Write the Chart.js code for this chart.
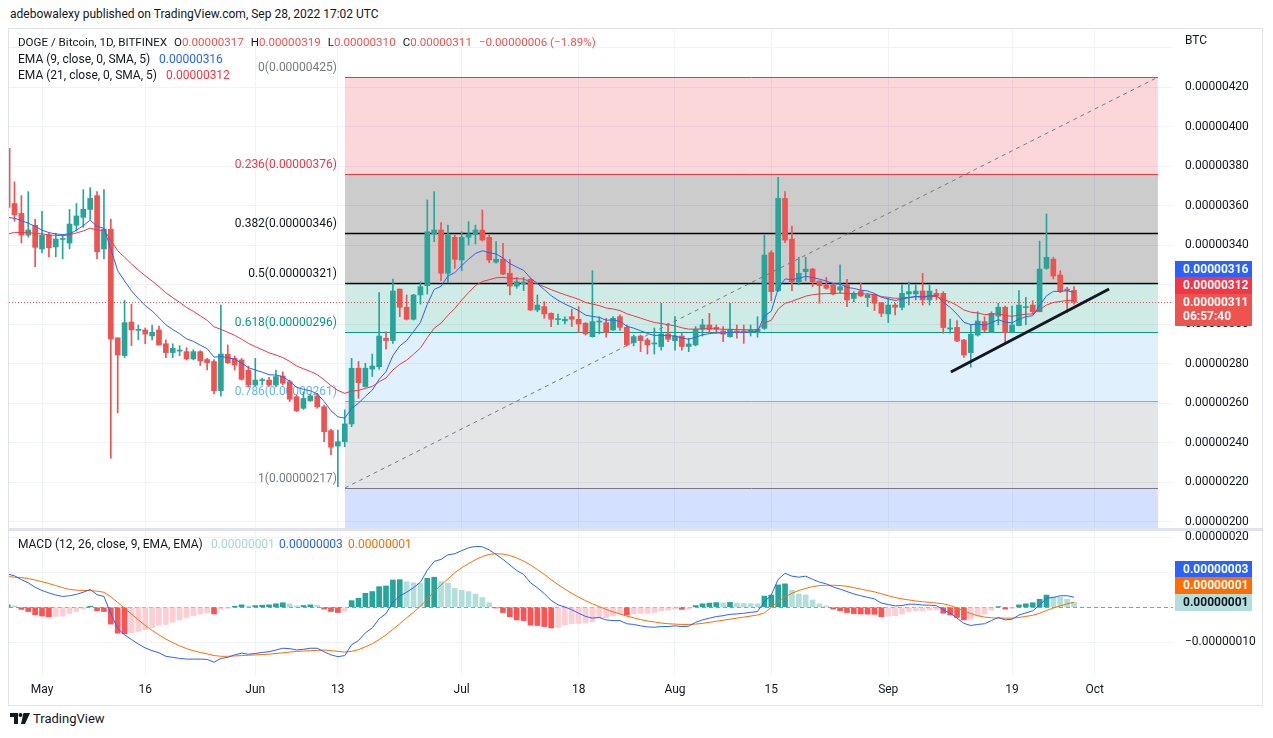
<!DOCTYPE html>
<html>
<head>
<meta charset="utf-8">
<title>DOGE / Bitcoin 1D</title>
<script src="https://cdn.jsdelivr.net/npm/chart.js@4.4.1/dist/chart.umd.min.js"></script>
<style>
  html, body { margin: 0; padding: 0; background: #fff; }
  body { position: relative; width: 1273px; height: 738px; overflow: hidden;
         font-family: Roboto, "Liberation Sans", sans-serif; color: #131722; }
  .abs { position: absolute; white-space: pre; line-height: 16px; font-size: 12px; }
  #frame { position: absolute; left: 8px; top: 28px; width: 1255px; height: 678px;
           border: 1px solid #e0e3eb; box-sizing: border-box; }
  #sep { position: absolute; left: 9px; top: 528px; width: 1253px; height: 3px; background: #e0e3eb; }
  canvas { position: absolute; }
  .dn { color: #ef5350; }
  #ohlc span.k { margin-left: 7px; }
</style>
</head>
<body>
<div id="frame"></div>
<canvas id="price" width="1253" height="499" style="left:9px;top:29px"></canvas>
<div id="sep"></div>
<canvas id="macd" width="1253" height="174" style="left:9px;top:531px"></canvas>

<div class="abs" style="left:10px;top:6px">adebowalexy published on TradingView.com, Sep 28, 2022 17:02 UTC</div>
<div class="abs" id="ohlc" style="left:18px;top:34px;font-size:11.6px">DOGE / Bitcoin, 1D, BITFINEX<span class="k">O</span><span class="dn" id="vO"></span><span class="k">H</span><span class="dn" id="vH"></span><span class="k">L</span><span class="dn" id="vL"></span><span class="k">C</span><span class="dn" id="vC"></span><span class="k dn" id="vChg"></span></div>
<div class="abs" style="left:18px;top:51px">EMA (9, close, 0, SMA, 5)</div>
<div class="abs" id="vE9" style="left:159px;top:51px;color:#2962ff"></div>
<div class="abs" style="left:18px;top:67px">EMA (21, close, 0, SMA, 5)</div>
<div class="abs" id="vE21" style="left:166px;top:67px;color:#f23645"></div>
<div class="abs" style="left:1185px;top:32px">BTC</div>
<div class="abs" style="left:18px;top:536px">MACD (12, 26, close, 9, EMA, EMA)</div>
<div class="abs" id="vHist" style="left:211px;top:536px;color:#a5d6d0"></div>
<div class="abs" id="vMacd" style="left:279px;top:536px;color:#2962ff"></div>
<div class="abs" id="vSig" style="left:348px;top:536px;color:#ff6d00"></div>

<svg style="position:absolute;left:10px;top:713px" width="20" height="12" viewBox="0 0 20 12">
  <path d="M0 0h8v11H4V4H0z" fill="#131722"/>
  <circle cx="10.5" cy="2" r="2" fill="#131722"/>
  <path d="M13.5 0H20l-5 11h-4z" fill="#131722"/>
</svg>
<div class="abs" style="left:33px;top:711px;font-size:13px">TradingView</div>

<script>
// values in satoshi (1e-8 BTC); first candle is Apr 26 2022 = day -5, May 1 = day 0
const firstDay = -5;

const open = [
  389, 361, 356, 345, 350, 338, 345, 339, 342.8, 341,
  350, 354, 358, 365, 338, 348, 293, 284, 301, 296.8,
  297, 294, 297, 290, 285.5, 286.3, 286, 282.3, 286, 282,
  281, 266.2, 284.7, 282.6, 281.8, 276.7, 269.1, 271.3, 271.6, 269.1,
  273.7, 270.8, 263.2, 257.3, 261.2, 263.6, 258.1, 246, 238.2, 240.4,
  249.4, 277.6, 268.3, 277.2, 278.4, 292.8, 291.6, 317.7, 308.5, 302.4,
  314.7, 319.4, 345.6, 347.6, 325.7, 343.9, 332.4, 343.9, 345.2, 347.6,
  343.9, 331.3, 332.8, 325.7, 319.2, 320.4, 322.6, 307.1, 308.8, 305.4,
  302.2, 301.6, 303.7, 302.4, 300.4, 293.6, 301, 300.7, 297, 303.7,
  298.3, 290.6, 293.9, 291.9, 289.9, 288.6, 295, 291.6, 293.9, 288.6,
  289.4, 297.3, 299.5, 298.3, 296.5, 293.6, 296.5, 296.5, 295.8, 295.8,
  297.8, 336.1, 316.8, 363.6, 343, 321.4, 326.5, 327.8, 321.8, 319.7,
  319.7, 317.2, 319.7, 313, 316.7, 313.4, 314.7, 310.8, 305.1, 309.6,
  308.5, 315.2, 315.2, 316.7, 312.2, 315.5, 315.5, 297.5, 298.3, 291.9,
  285.5, 294.4, 301.2, 295.8, 304, 308.5, 295.8, 299.2, 308.3, 309.6,
  306.2, 328.2, 332.8, 324.8, 317.7, 317
];
const high = [
  391, 372, 365, 367, 353, 357, 346, 346, 345, 358,
  361, 368, 369, 367, 368, 353, 293, 312, 310, 299.5,
  298, 299.5, 299, 292, 290, 289, 288, 287, 286.5, 282.6,
  282, 309.6, 289.4, 283.8, 282.6, 278.7, 282.6, 272.6, 273, 276.7,
  275.8, 271.6, 264, 265.7, 264.6, 264.9, 259, 246.7, 246.3, 256.5,
  282.6, 281, 280.1, 284.8, 315.9, 296.1, 322.8, 317.7, 314.7, 315,
  321.4, 362.8, 367, 351.3, 350.1, 345, 346.7, 351.8, 350.1, 357.7,
  345, 341.7, 340.9, 332.8, 323.6, 323.6, 323.1, 314.7, 311.3, 305.6,
  305, 303.6, 307.5, 308.8, 300.7, 327, 303.6, 302.9, 303.7, 304.6,
  299.5, 294.4, 294.4, 292.8, 298, 310.5, 300.4, 303.7, 295.3, 292.8,
  298.7, 302.4, 305.4, 299.5, 298.7, 310.5, 299.5, 299.5, 299.5, 303.7,
  345, 337.1, 374.3, 367, 349.6, 333.8, 333.8, 328.2, 321.8, 323.6,
  320.6, 329.9, 322.6, 316.4, 320.6, 315.5, 315.2, 310.8, 313, 310.5,
  319.7, 321.4, 319.7, 325.7, 319.7, 317.6, 316.4, 302.5, 301.7, 292.3,
  299.5, 306.2, 303.7, 306.2, 310.5, 309.1, 309.1, 316.9, 313.5, 311.8,
  342, 355.7, 333.8, 327, 318.6, 319
];
const low = [
  352, 352, 341, 344, 329, 336, 334, 334, 333, 338,
  347, 349, 353, 333, 333, 232, 255, 283, 289, 292,
  290, 292, 289.4, 283, 283, 284, 281.8, 281.8, 279, 276.7,
  264.6, 263.5, 280, 276.7, 271.6, 268, 268.6, 269.1, 268.4, 268.3,
  269.1, 260.7, 255.6, 256.8, 260.7, 257.3, 240.4, 233.7, 217.6, 237.9,
  248, 262.4, 268, 273.4, 277.1, 287.2, 290.2, 303.7, 302, 302,
  310.1, 315.2, 341.7, 322, 320.9, 328.2, 327, 340, 340.5, 342,
  331, 330.8, 325, 314.7, 318.1, 316.9, 306.8, 306.2, 302.9, 298.7,
  299.7, 300, 298.7, 295.6, 294.4, 293.3, 295, 293.3, 296.7, 296.7,
  288.9, 288.9, 286, 284.8, 284.8, 286.8, 291.1, 286.8, 286.8, 286,
  288.9, 293.9, 295.3, 295.3, 291.1, 293.3, 292.8, 290.2, 293.9, 293.3,
  297.3, 311.8, 316.5, 341.2, 316.9, 319.8, 322, 318.9, 310.5, 317.6,
  314.7, 315.5, 308.8, 311.3, 313.9, 308.8, 306.8, 303.7, 300.7, 304.6,
  307.1, 309.6, 312.2, 309.6, 309.6, 312.2, 295.3, 295.3, 291.1, 283.1,
  278.1, 293.9, 296.1, 295.8, 299.5, 290.6, 295.8, 299, 299.5, 305,
  306.2, 327.7, 322.8, 315.9, 305.8, 310
];
const close = [
  359, 355.3, 345, 347.6, 338.8, 345, 338.6, 343, 343.3, 350.6,
  354.7, 358.1, 363.6, 336.6, 348, 292.4, 284.3, 300.7, 297, 297.2,
  294.9, 295.8, 289.4, 285.5, 287.7, 286.7, 282.3, 286, 281.4, 280.4,
  266.2, 284.8, 280.4, 279.2, 272, 269.1, 271.6, 271.8, 269.1, 273.4,
  270, 261.9, 256.1, 262.3, 263.6, 258.1, 245.5, 237.6, 240.4, 249.4,
  277.6, 270.3, 277.6, 278.7, 293.9, 291.6, 316.7, 308.5, 302.4, 314.7,
  318.9, 346.7, 347.6, 325.7, 345, 332.8, 343.9, 345.6, 347.6, 342.5,
  332.4, 332.8, 325.3, 319.2, 321.4, 321.2, 307.1, 309.6, 305.1, 302.4,
  302.6, 302.4, 302.4, 300, 295, 301.2, 301.5, 295.8, 302.9, 298.3,
  289.4, 293.6, 291.6, 289.4, 290.4, 295, 292.3, 293.9, 288.6, 289.9,
  297.3, 299.5, 297.3, 297.3, 294.9, 297.3, 295.7, 295.8, 297, 297.3,
  334.9, 316.4, 363.6, 342.5, 321.4, 325.7, 327.8, 321.4, 319.4, 318.1,
  315.2, 318.9, 312.2, 315.5, 314.2, 314.7, 310.5, 305.4, 309.6, 308.5,
  315.5, 316.4, 316.7, 312.2, 316.7, 314.2, 298.2, 297.8, 291.4, 284.3,
  294.8, 301.5, 297, 305.4, 308.5, 295.6, 299.5, 309.6, 308.8, 306.2,
  327.8, 333.8, 324.3, 316.4, 317, 311
];
const ema9 = [
  354, 353.5, 352.5, 351, 349.5, 347.5, 346.3, 345.6, 345.3, 345.6,
  347.5, 349.8, 352.6, 349.4, 348.5, 338, 327, 321.8, 316.8, 312.9,
  309.3, 306.6, 303.2, 299.6, 297.2, 295.1, 292.5, 291.2, 289.3, 287.5,
  283.2, 283.6, 282.9, 282.2, 280.2, 277.9, 276.7, 275.6, 274.3, 274.2,
  273.3, 271, 268, 266.9, 266.2, 264.6, 260.8, 256.1, 253, 252.3,
  257.3, 259.9, 263.4, 266.5, 272, 275.9, 284, 288.9, 291.6, 296.2,
  300.8, 310, 317.5, 319.1, 324.3, 326, 329.6, 332.8, 335.7, 337.1,
  336.1, 335.5, 333.4, 330.6, 328.8, 327.2, 323.2, 320.5, 317.4, 314.4,
  312, 310.1, 308.5, 306.8, 304.5, 303.8, 303.4, 301.9, 302.1, 301.3,
  298.9, 297.9, 296.6, 295.2, 294.2, 294.4, 294, 294, 292.9, 292.3,
  293.3, 294.5, 295.1, 295.5, 295.4, 295.8, 295.8, 295.8, 296, 296.3,
  304, 306.5, 317.9, 322.8, 322.5, 323.2, 324.1, 323.6, 322.7, 321.8,
  320.5, 320.2, 318.6, 318, 317.2, 316.7, 315.5, 313.5, 312.7, 311.9,
  312.6, 313.3, 314, 313.7, 314.3, 314.3, 311.1, 308.4, 305, 300.9,
  299.7, 300, 299.4, 300.6, 302.2, 300.9, 300.6, 302.4, 303.7, 304.2,
  309.3, 314.3, 316.5, 316.6, 316.8, 316
];
const ema21 = [
  345.5, 346.4, 346.3, 346.4, 345.7, 345.7, 345.1, 344.9, 344.7, 345.2,
  346.1, 347.1, 348.6, 347.5, 347.5, 342.5, 337.1, 333.8, 330.4, 327.3,
  324.4, 321.8, 318.9, 315.8, 313.3, 311, 308.4, 306.4, 304.1, 301.9,
  298.6, 297.3, 295.8, 294.3, 292.3, 290.2, 288.5, 287, 285.4, 284.3,
  283, 281.1, 278.8, 277.3, 276, 274.4, 271.7, 268.8, 266.4, 264.9,
  266, 266.4, 267.4, 268.4, 270.7, 272.7, 276.7, 279.6, 281.7, 284.7,
  287.8, 293.1, 297.9, 300.4, 304.4, 307.9, 312.1, 315.9, 319.5, 321.5,
  322.4, 323.4, 323.6, 323.2, 323, 322.8, 321.3, 320.3, 318.9, 317.4,
  316.1, 314.8, 313.7, 312.5, 310.9, 310.1, 309.3, 308.1, 307.6, 306.8,
  305.2, 304.1, 303, 301.8, 300.8, 300.3, 299.6, 299.1, 298.1, 297.4,
  297.4, 297.6, 297.6, 297.6, 297.3, 297.3, 297.2, 297.1, 297.1, 297.1,
  300.5, 301.9, 307.5, 310.5, 311.5, 312.8, 314.1, 314.8, 315.2, 315.4,
  315.4, 315.7, 315.4, 315.4, 315.3, 315.2, 314.8, 313.9, 313.5, 313,
  313.2, 313.5, 313.8, 313.6, 313.9, 313.9, 312.5, 311.2, 309.4, 307.1,
  306, 305.6, 304.8, 304.9, 305.2, 304.3, 303.9, 304.5, 305, 305.1,
  307.2, 309.6, 310.9, 311.4, 311.9, 312
];
const macd = [
  9.5, 9.0, 7.9, 7.0, 5.7, 4.8, 4.1, 3.5, 3.1, 3.3,
  3.7, 4.3, 5.1, 3.6, 3.1, -1.8, -6.0, -7.9, -9.2, -10.5,
  -11.6, -12.4, -13.0, -14.0, -14.3, -14.6, -14.8, -14.8, -14.8, -14.9,
  -15.7, -14.6, -14.3, -13.6, -13.1, -13.4, -13.2, -12.9, -12.7, -12.2,
  -11.7, -11.8, -12.2, -12.0, -11.7, -11.7, -12.7, -13.6, -14.1, -13.8,
  -10.7, -9.5, -7.3, -5.9, -3.3, -1.8, 1.5, 3.2, 4.3, 5.6,
  7.2, 10.6, 13.1, 13.7, 15.0, 15.3, 16.2, 17.0, 17.4, 17.3,
  16.4, 15.1, 13.7, 12.1, 10.5, 9.4, 7.0, 5.6, 3.9, 2.0,
  0.7, 0.1, -0.7, -1.7, -2.6, -3.1, -2.9, -3.6, -3.8, -3.8,
  -4.7, -4.9, -5.3, -5.6, -5.7, -5.5, -5.5, -5.3, -5.5, -5.4,
  -4.3, -3.6, -3.1, -2.65, -2.4, -2.0, -1.9, -1.7, -1.45, -1.2,
  1.6, 3.5, 8.0, 9.7, 8.9, 8.6, 8.9, 8.0, 7.2, 6.7,
  5.8, 5.2, 4.5, 3.8, 3.3, 2.85, 2.4, 1.2, 0.8, 0.4,
  0.5, 0.9, 0.85, 0.65, 0.6, 0.45, -0.7, -1.7, -3.1, -4.6,
  -5.2, -4.9, -4.7, -3.8, -2.9, -3.6, -3.4, -2.2, -1.6, -1.0,
  0.6, 2.6, 2.8, 3.3, 3.3, 2.9
];
const signal = [
  8.8, 8.6, 8.5, 8.2, 7.8, 7.3, 6.8, 6.2, 5.6, 5.1,
  4.9, 4.8, 4.8, 4.6, 4.3, 3.0, 1.4, -0.3, -1.9, -3.6,
  -5.2, -6.6, -7.9, -9.1, -10.1, -11.0, -11.8, -12.4, -12.9, -13.3,
  -13.8, -14.0, -14.0, -13.9, -13.8, -13.7, -13.6, -13.5, -13.4, -13.2,
  -13.0, -12.8, -12.6, -12.5, -12.4, -12.3, -12.2, -12.4, -12.6, -12.8,
  -12.6, -12.1, -11.3, -10.4, -9.2, -7.9, -6.3, -4.7, -3.0, -1.4,
  0.3, 2.3, 4.5, 6.4, 8.1, 9.9, 11.3, 12.5, 13.6, 14.5,
  15.1, 15.3, 15.2, 14.8, 14.1, 13.2, 12.1, 10.8, 9.4, 7.9,
  6.5, 5.2, 4.0, 2.9, 1.9, 1.0, 0.2, -0.6, -1.3, -1.9,
  -2.5, -3.0, -3.5, -3.9, -4.2, -4.5, -4.7, -4.8, -4.9, -4.9,
  -4.8, -4.6, -4.3, -4.0, -3.7, -3.4, -3.1, -2.8, -2.5, -2.2,
  -1.6, 0.0, 1.6, 3.0, 4.0, 4.8, 5.4, 5.9, 6.2, 6.3,
  6.3, 6.2, 6.0, 5.6, 5.2, 4.8, 4.4, 3.9, 3.3, 2.8,
  2.4, 2.1, 1.8, 1.6, 1.4, 1.2, 1.0, 0.5, -0.2, -1.0,
  -1.8, -2.4, -2.8, -3.0, -3.1, -3.1, -3.1, -2.9, -2.6, -2.3,
  -1.7, -0.9, -0.2, 0.4, 1.0, 1.45
];
const hist = [
  0.7, 0.4, -0.6, -1.2, -2.1, -2.5, -2.7, -2.6, -2.5, -1.8,
  -1.2, -0.5, 0.3, -1.0, -1.2, -4.8, -7.4, -7.6, -7.3, -6.9,
  -6.4, -5.8, -5.1, -4.9, -4.2, -3.6, -3.0, -2.4, -1.9, -1.6,
  -1.9, -0.6, -0.3, 0.3, 0.7, 0.4, 0.5, 0.6, 0.7, 1.0,
  1.3, 1.0, 0.4, 0.5, 0.7, 0.6, -0.5, -1.2, -1.5, -1.0,
  1.9, 2.6, 4.0, 4.5, 5.9, 6.1, 7.8, 7.9, 7.3, 7.0,
  6.9, 8.3, 8.6, 7.3, 6.9, 5.4, 4.9, 4.5, 3.8, 2.8,
  1.3, -0.2, -1.5, -2.7, -3.6, -3.8, -5.1, -5.2, -5.5, -5.9,
  -5.8, -5.1, -4.7, -4.6, -4.5, -4.1, -3.1, -3.0, -2.5, -1.9,
  -2.2, -1.9, -1.8, -1.7, -1.5, -1.0, -0.8, -0.5, -0.6, -0.5,
  0.5, 1.0, 1.2, 1.35, 1.3, 1.4, 1.2, 1.1, 1.05, 1.0,
  3.2, 3.5, 6.4, 6.7, 4.9, 3.8, 3.5, 2.1, 1.0, 0.4,
  -0.5, -1.0, -1.5, -1.8, -1.9, -1.95, -2.0, -2.7, -2.5, -2.4,
  -1.9, -1.2, -1.0, -0.95, -0.8, -0.75, -1.7, -2.2, -2.9, -3.6,
  -3.4, -2.5, -1.9, -0.8, 0.2, -0.5, -0.3, 0.7, 1.0, 1.3,
  2.3, 3.5, 3.0, 2.9, 2.3, 1.45
];

const dayTicks = [0, 15, 31, 43, 61, 78, 92, 106, 123, 141, 153];
const dayLabels = ['May', '16', 'Jun', '13', 'Jul', '18', 'Aug', '15', 'Sep', '19', 'Oct'];
const priceTicks = [200, 220, 240, 260, 280, 300, 320, 340, 360, 380, 400, 420, 440];
const macdTicks = [-10, 0, 10, 20];

// fib retracement drawing (day range and level prices)
const fibRatios = ['0', '0.236', '0.382', '0.5', '0.618', '0.786', '1'];
const fibPrices = [425, 376, 346, 321, 296, 261, 217];
const fibExtPrice = 88.4;      // 1.618 level, below the visible range
const fibFrom = 44.04, fibTo = 162.2;
const trendFrom = [132.1, 275.7], trendTo = [155.1, 317.7];
const countdown = '06:57:40';

// styles
const fibFill = ['rgba(242,54,69,0.2)', 'rgba(0,0,0,0.2)', 'rgba(0,0,0,0.2)', 'rgba(8,153,129,0.2)',
                 'rgba(100,181,246,0.2)', 'rgba(120,123,134,0.2)', 'rgba(41,98,255,0.2)'];
const fibLine = ['#f23645', '#f23645', '#000000', '#000000', '#089981', '#64b5f6', '#787b86'];
const fibText = ['#787b86', '#f23645', '#131722', '#131722', '#089981', '#64b5f6', '#787b86'];
const up = '#26a69a', down = '#ef5350';
const FONT = 'Roboto, "Liberation Sans", sans-serif';

const fmt = v => (v < 0 ? '\u2212' : '') + (Math.abs(v) / 1e8).toFixed(8);
const day = k => firstDay + k;
const pts = arr => arr.map((v, k) => ({x: day(k), y: v}));
const last = close.length - 1;

// legends
document.getElementById('vO').textContent = fmt(open[last]);
document.getElementById('vH').textContent = fmt(high[last]);
document.getElementById('vL').textContent = fmt(low[last]);
document.getElementById('vC').textContent = fmt(close[last]);
const chg = close[last] - close[last - 1];
document.getElementById('vChg').textContent =
  fmt(chg) + ' (' + (chg < 0 ? '\u2212' : '+') + Math.abs(chg / close[last - 1] * 100).toFixed(2) + '%)';
document.getElementById('vE9').textContent = fmt(ema9[last]);
document.getElementById('vE21').textContent = fmt(ema21[last]);
document.getElementById('vHist').textContent = fmt(hist[last]);
document.getElementById('vMacd').textContent = fmt(macd[last]);
document.getElementById('vSig').textContent = fmt(signal[last]);

Chart.defaults.font.family = FONT;
Chart.defaults.font.size = 12;
Chart.defaults.color = '#131722';

const candleColor = ctx => close[ctx.dataIndex] >= open[ctx.dataIndex] ? up : down;
const histColor = ctx => {
  const k = ctx.dataIndex, h = hist[k], p = k > 0 ? hist[k - 1] : h;
  if (h >= 0) return h >= p ? '#26a69a' : '#b2dfdb';
  return h < p ? '#ff5252' : '#ffcdd2';
};

function noPad(s) { s.paddingTop = s.paddingBottom = s.paddingLeft = s.paddingRight = 0; }

function badge(ctx, x, y, w, h, bg, fg, lines) {
  ctx.fillStyle = bg;
  ctx.fillRect(x, y, w, h);
  ctx.fillStyle = fg;
  ctx.font = 'bold 12px ' + FONT;
  ctx.textAlign = 'left';
  ctx.textBaseline = 'middle';
  lines.forEach((t, n) => ctx.fillText(t, x + 8, y + 8.5 + n * 14));
}

const pricePlugin = {
  id: 'priceExtras',
  beforeDatasetsDraw(chart) {
    const {ctx, chartArea: a, scales: {x, y}} = chart;
    const x0 = x.getPixelForValue(fibFrom), x1 = x.getPixelForValue(fibTo);
    ctx.save();
    ctx.beginPath();
    ctx.rect(a.left, a.top, a.right - a.left, a.bottom - a.top);
    ctx.clip();
    const bounds = fibPrices.concat([fibExtPrice]);
    for (let k = 0; k < bounds.length - 1; k++) {
      const ya = y.getPixelForValue(bounds[k]), yb = y.getPixelForValue(bounds[k + 1]);
      ctx.fillStyle = fibFill[k];
      ctx.fillRect(x0, ya, x1 - x0, yb - ya);
    }
    fibPrices.forEach((p, k) => {
      const yy = Math.round(y.getPixelForValue(p)) + 0.5;
      ctx.strokeStyle = fibLine[k];
      ctx.lineWidth = (k === 2 || k === 3) ? 1.5 : 1;
      ctx.beginPath();
      ctx.moveTo(x0, yy);
      ctx.lineTo(x1, yy);
      ctx.stroke();
      ctx.fillStyle = fibText[k];
      ctx.font = '12px ' + FONT;
      ctx.textAlign = 'right';
      ctx.textBaseline = 'middle';
      ctx.fillText(fibRatios[k] + '(' + fmt(p) + ')', x0 - 8, yy - 10);
    });
    // last price dotted line
    const yl = Math.round(y.getPixelForValue(close[last])) + 0.5;
    ctx.strokeStyle = down;
    ctx.lineWidth = 1;
    ctx.setLineDash([1, 2]);
    ctx.beginPath();
    ctx.moveTo(a.left, yl);
    ctx.lineTo(a.right, yl);
    ctx.stroke();
    ctx.restore();
  },
  afterDraw(chart) {
    const ctx = chart.ctx, bx = chart.chartArea.right + 2;
    ctx.save();
    badge(ctx, bx, 232, 77, 16, '#2962ff', '#ffffff', [fmt(ema9[last])]);
    badge(ctx, bx, 248, 77, 17, '#f23645', '#ffffff', [fmt(ema21[last])]);
    badge(ctx, bx, 265, 77, 32, '#ef5350', '#ffffff', [fmt(close[last]), countdown]);
    ctx.restore();
  }
};

const macdPlugin = {
  id: 'macdExtras',
  beforeDatasetsDraw(chart) {
    const {ctx, chartArea: a, scales: {y}} = chart;
    const y0 = Math.round(y.getPixelForValue(0)) + 0.5;
    ctx.save();
    ctx.strokeStyle = '#9598a1';
    ctx.lineWidth = 1;
    ctx.setLineDash([4, 3]);
    ctx.beginPath();
    ctx.moveTo(a.left, y0);
    ctx.lineTo(a.right, y0);
    ctx.stroke();
    ctx.restore();
  },
  afterDraw(chart) {
    const ctx = chart.ctx, bx = chart.chartArea.right + 2;
    ctx.save();
    badge(ctx, bx, 30, 77, 16, '#2962ff', '#ffffff', [fmt(macd[last])]);
    badge(ctx, bx, 46, 77, 17, '#ff6d00', '#ffffff', [fmt(signal[last])]);
    badge(ctx, bx, 63, 77, 17, '#b2dfdb', '#131722', [fmt(hist[last])]);
    ctx.restore();
  }
};

const xMin = -4.8, xMax = 164.39;
const gridColor = '#f0f3fa';

new Chart(document.getElementById('price'), {
  type: 'bar',
  data: {
    datasets: [
      {type: 'line', data: [{x: trendFrom[0], y: trendFrom[1]}, {x: trendTo[0], y: trendTo[1]}],
       borderColor: '#131722', borderWidth: 3, pointRadius: 0, order: 0},
      {type: 'line', data: [{x: fibFrom, y: fibPrices[6]}, {x: fibTo, y: fibPrices[0]}],
       borderColor: '#787b86', borderWidth: 1, borderDash: [4, 4], pointRadius: 0, order: 1},
      {type: 'line', data: pts(ema9), borderColor: '#2962ff', borderWidth: 1, pointRadius: 0, order: 2},
      {type: 'line', data: pts(ema21), borderColor: '#f23645', borderWidth: 1, pointRadius: 0, order: 3},
      {data: close.map((c, k) => ({x: day(k), y: [open[k], c]})), backgroundColor: candleColor,
       barThickness: 5, minBarLength: 1, grouped: false, order: 4},
      {data: close.map((c, k) => ({x: day(k), y: [low[k], high[k]]})), backgroundColor: candleColor,
       barThickness: 1, grouped: false, order: 5}
    ]
  },
  options: {
    responsive: false, animation: false, events: [], devicePixelRatio: 1,
    layout: {padding: 0},
    plugins: {legend: {display: false}, tooltip: {enabled: false}},
    scales: {
      x: {type: 'linear', min: xMin, max: xMax, offset: false,
          afterBuildTicks: s => { s.ticks = dayTicks.map(v => ({value: v})); },
          ticks: {display: false},
          grid: {color: gridColor, drawTicks: false, offset: false},
          border: {display: false},
          afterFit: s => { s.height = 0; noPad(s); }},
      y: {position: 'right', min: 196.71, max: 449.37,
          afterBuildTicks: s => { s.ticks = priceTicks.map(v => ({value: v})); },
          ticks: {padding: 12, color: '#131722', callback: v => v === 440 ? '' : fmt(v)},
          grid: {color: gridColor, drawTicks: false},
          border: {display: false},
          afterFit: s => { s.width = 89; noPad(s); }}
    }
  },
  plugins: [pricePlugin]
});

new Chart(document.getElementById('macd'), {
  type: 'bar',
  data: {
    datasets: [
      {type: 'line', data: pts(macd), borderColor: '#2962ff', borderWidth: 1, pointRadius: 0, order: 0},
      {type: 'line', data: pts(signal), borderColor: '#ff6d00', borderWidth: 1, pointRadius: 0, order: 1},
      {data: hist.map((h, k) => ({x: day(k), y: h})), backgroundColor: histColor,
       barThickness: 5, grouped: false, order: 2}
    ]
  },
  options: {
    responsive: false, animation: false, events: [], devicePixelRatio: 1,
    layout: {padding: 0},
    plugins: {legend: {display: false}, tooltip: {enabled: false}},
    scales: {
      x: {type: 'linear', min: xMin, max: xMax, offset: false,
          afterBuildTicks: s => { s.ticks = dayTicks.map(v => ({value: v})); },
          ticks: {padding: 7, autoSkip: false, maxRotation: 0, color: '#131722',
                  callback: v => dayLabels[dayTicks.indexOf(v)]},
          grid: {color: gridColor, drawTicks: false, offset: false},
          border: {display: false},
          afterFit: s => { s.height = 29; noPad(s); }},
      y: {position: 'right', min: -19.63, max: 21.8,
          afterBuildTicks: s => { s.ticks = macdTicks.map(v => ({value: v})); },
          ticks: {padding: 12, color: '#131722', callback: v => fmt(v)},
          grid: {color: gridColor, drawTicks: false},
          border: {display: false},
          afterFit: s => { s.width = 89; noPad(s); }}
    }
  },
  plugins: [macdPlugin]
});
</script>
</body>
</html>
